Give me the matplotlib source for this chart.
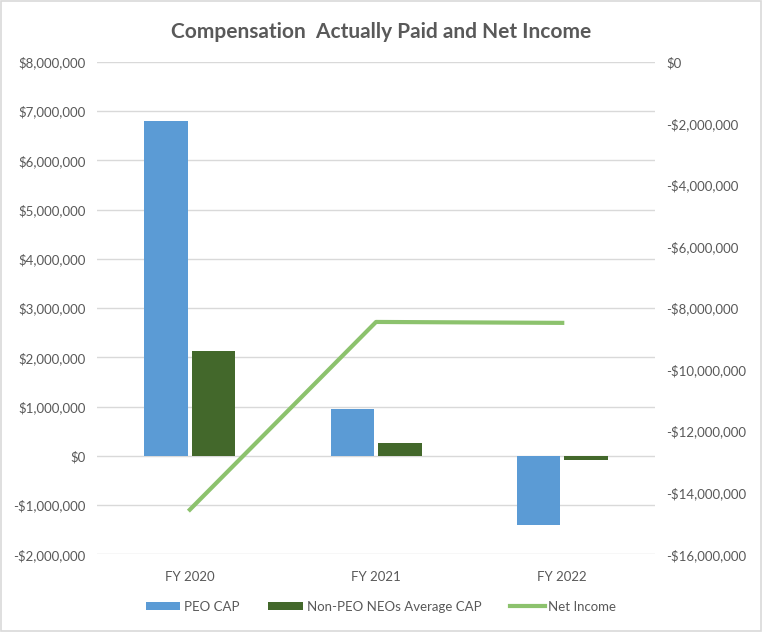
import numpy as np
import matplotlib.pyplot as plt
from matplotlib.ticker import FuncFormatter

years = ["FY 2020", "FY 2021", "FY 2022"]
peo_cap = [6800000, 960000, -1410000]
non_peo_cap = [2120000, 270000, -90000]
net_income = [-14550000, -8450000, -8480000]

plt.rcParams['font.family'] = ['Lato', 'DejaVu Sans']
text_color = '#595959'


def money(v, pos):
    if v < 0:
        return '-${:,.0f}'.format(-v)
    return '${:,.0f}'.format(v)


fig = plt.figure(figsize=(7.62, 6.32), dpi=100)
fig.patches.append(plt.Rectangle((0.001, 0.001), 0.998, 0.998, transform=fig.transFigure,
                                 fill=False, edgecolor='#D9D9D9', linewidth=1.2))
ax = fig.add_axes([0.127, 0.123, 0.733, 0.779])
ax2 = ax.twinx()

x = np.arange(len(years))
w = 0.235
ax.bar(x - 0.127, peo_cap, w, color='#5B9BD5', label='PEO CAP', zorder=2)
ax.bar(x + 0.127, non_peo_cap, w, color='#43682B', label='Non-PEO NEOs Average CAP', zorder=2)
ax2.plot(x, net_income, color='#8CC26D', linewidth=3, label='Net Income', zorder=3)

ax.set_xlim(-0.5, 2.5)
ax.set_ylim(-2000000, 8000000)
ax.set_yticks(np.arange(-2000000, 8000001, 1000000))
ax.yaxis.set_major_formatter(FuncFormatter(money))
ax2.set_ylim(-16000000, 0)
ax2.set_yticks(np.arange(-16000000, 1, 2000000))
ax2.yaxis.set_major_formatter(FuncFormatter(money))

ax.set_xticks(x)
ax.set_xticklabels(years)
ax.grid(axis='y', color='#D9D9D9', linewidth=1, zorder=0)
ax.set_axisbelow(True)
for a in (ax, ax2):
    for s in a.spines.values():
        s.set_visible(False)
    a.tick_params(length=0, labelsize=9.5, colors=text_color, pad=8)
ax.tick_params(axis='x', pad=12)

fig.suptitle('Compensation  Actually Paid and Net Income', y=0.965, fontsize=15,
             color=text_color, fontweight='bold')

h1, l1 = ax.get_legend_handles_labels()
h2, l2 = ax2.get_legend_handles_labels()
fig.legend(h1 + h2, l1 + l2, loc='center', bbox_to_anchor=(0.5, 0.04), ncol=3,
           frameon=False, fontsize=9.5, labelcolor=text_color, handlelength=2.6,
           handleheight=0.5, columnspacing=2.2, handletextpad=0.3)

fig.savefig('out.png', dpi=100)
